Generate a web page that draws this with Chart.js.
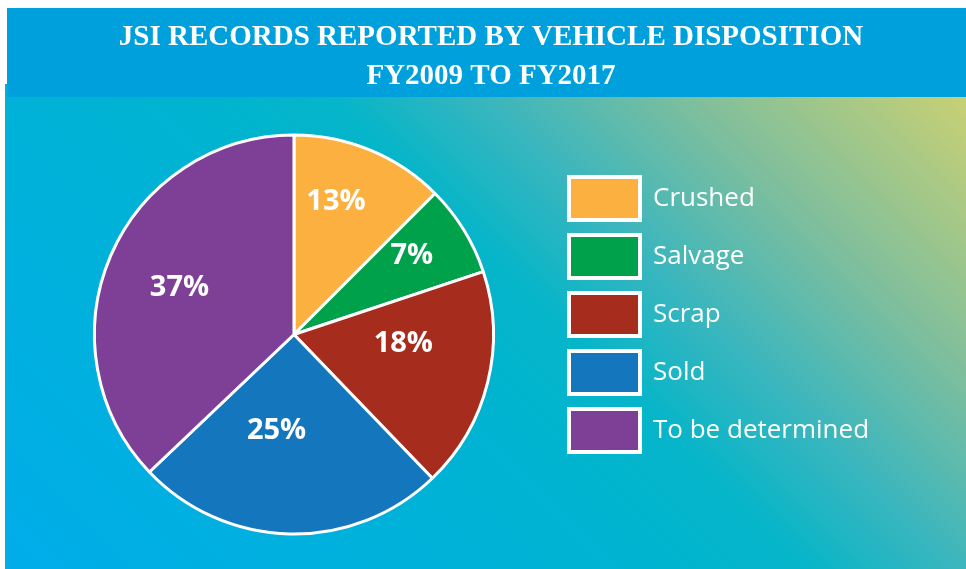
<!DOCTYPE html>
<html>
<head>
<meta charset="utf-8">
<script src="https://cdn.jsdelivr.net/npm/chart.js@4/dist/chart.umd.min.js"></script>
<style>
  html, body { margin: 0; padding: 0; background: #ffffff; }
  #wrap { width: 966px; height: 569px; }
</style>
</head>
<body>
<div id="wrap"><canvas id="c" width="966" height="569"></canvas></div>
<script>
// ---- data ----
const categories = ['Crushed', 'Salvage', 'Scrap', 'Sold', 'To be determined'];
const shares = [12.5, 7.4, 17.9, 25.1, 37.1];
const percentLabels = ['13%', '7%', '18%', '25%', '37%'];
const sliceColors = ['#fbb040', '#00a14b', '#a62d1e', '#1476bd', '#7e3f96'];
const titleLines = ['JSI RECORDS REPORTED BY VEHICLE DISPOSITION', 'FY2009 TO FY2017'];

// ---- background + title band ----
const backdrop = {
  id: 'backdrop',
  beforeDraw(chart) {
    const ctx = chart.ctx;
    ctx.save();
    ctx.fillStyle = '#ffffff';
    ctx.fillRect(0, 0, chart.width, chart.height);
    const g = ctx.createLinearGradient(0, 569, 719, -150);
    g.addColorStop(0.0, '#00adea');
    g.addColorStop(0.33, '#00b2d8');
    g.addColorStop(0.47, '#00b4cf');
    g.addColorStop(0.56, '#06b5c9');
    g.addColorStop(0.67, '#3cb6bd');
    g.addColorStop(0.81, '#80bf9c');
    g.addColorStop(1.0, '#c8d074');
    ctx.fillStyle = g;
    ctx.fillRect(5, 84, chart.width - 5, chart.height - 84);
    ctx.fillStyle = '#00a0dc';
    ctx.fillRect(7, 8, chart.width - 7, 89);
    ctx.restore();
  },
  afterLayout(chart) {
    const t = chart.titleBlock;
    if (t) { t.left = 16; t.right = 966; t.width = 950; }
    const lg = chart.legend;
    if (lg) {
      const w = lg.width, h = lg.height;
      lg.left = 554; lg.top = 162; lg.right = 554 + w; lg.bottom = 162 + h;
    }
  }
};

// ---- percentage labels inside slices ----
const sliceLabels = {
  id: 'sliceLabels',
  afterDatasetsDraw(chart, args, opts) {
    const ctx = chart.ctx;
    const meta = chart.getDatasetMeta(0);
    ctx.save();
    ctx.fillStyle = '#ffffff';
    ctx.font = 'bold 29px "Open Sans", sans-serif';
    ctx.textAlign = 'center';
    ctx.textBaseline = 'middle';
    meta.data.forEach((arc, i) => {
      const p = arc.getProps(['x', 'y', 'startAngle', 'endAngle', 'outerRadius'], true);
      const a = (p.startAngle + p.endAngle) / 2 + opts.angleShift[i] * Math.PI / 180;
      const r = p.outerRadius * opts.radiusFrac[i];
      ctx.fillText(percentLabels[i], p.x + Math.cos(a) * r, p.y + Math.sin(a) * r);
    });
    ctx.restore();
  }
};

new Chart(document.getElementById('c'), {
  type: 'pie',
  data: {
    labels: categories,
    datasets: [{
      data: shares,
      backgroundColor: sliceColors,
      borderColor: '#ffffff',
      borderWidth: 3
    }]
  },
  options: {
    responsive: false,
    animation: false,
    radius: 199.5,
    layout: { padding: { left: 0, right: 53, top: 0, bottom: 0 } },
    plugins: {
      tooltip: { enabled: false },
      title: {
        display: true,
        text: titleLines,
        color: '#ffffff',
        font: { family: '"Liberation Serif", serif', size: 29, weight: 'bold', lineHeight: 1.345 },
        padding: { top: 18, bottom: 4 }
      },
      legend: {
        position: 'right',
        align: 'start',
        labels: {
          color: '#ffffff',
          font: { family: '"Open Sans", sans-serif', size: 26 },
          boxWidth: 71,
          boxHeight: 43,
          padding: 15,
          generateLabels(chart) {
            const base = Chart.overrides.pie.plugins.legend.labels.generateLabels(chart);
            return base.map(it => Object.assign(it, { lineWidth: 4, strokeStyle: '#ffffff' }));
          }
        }
      },
      sliceLabels: {
        radiusFrac: [0.70, 0.71, 0.55, 0.49, 0.62],
        angleShift: [-5, -2, -9, 9, -1]
      }
    }
  },
  plugins: [backdrop, sliceLabels]
});
</script>
</body>
</html>
